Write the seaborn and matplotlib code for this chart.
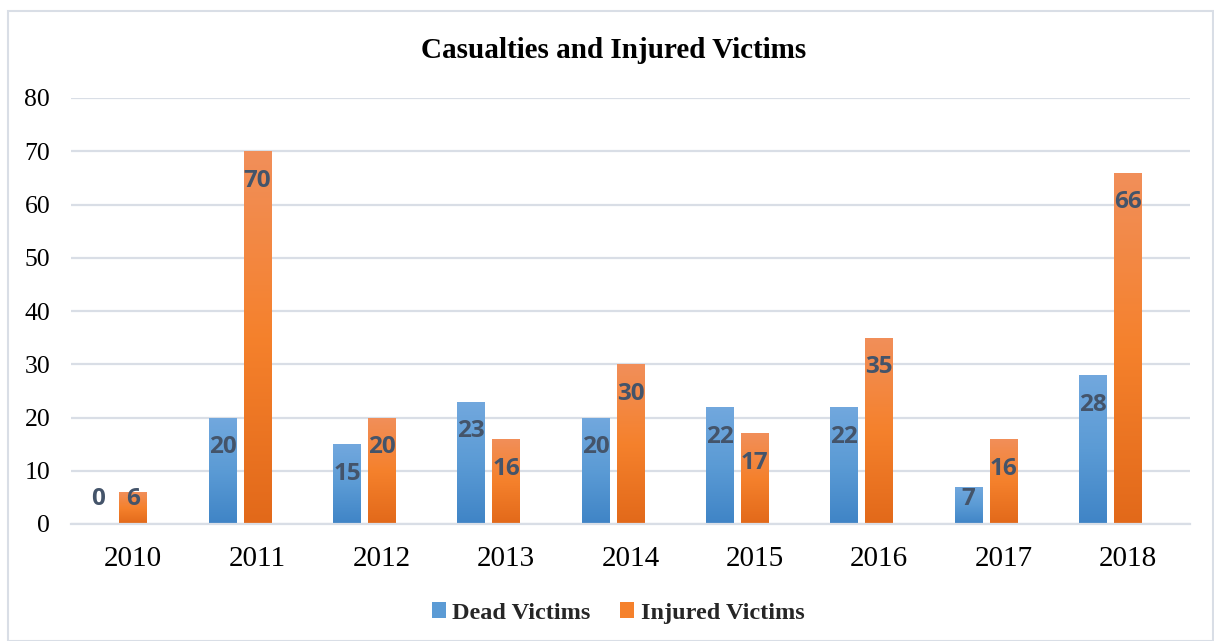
import numpy as np
import pandas as pd
import matplotlib
matplotlib.use("Agg")
import matplotlib.pyplot as plt
from matplotlib.colors import LinearSegmentedColormap
from matplotlib.patches import Rectangle, Patch
import seaborn as sns

years = ["2010", "2011", "2012", "2013", "2014", "2015", "2016", "2017", "2018"]
dead = [0, 20, 15, 23, 20, 22, 22, 7, 28]
injured = [6, 70, 20, 16, 30, 17, 35, 16, 66]
series_names = ["Dead Victims", "Injured Victims", "_blank"]
title = "Casualties and Injured Victims"

sns.set_theme(style="white")
plt.rcParams["font.family"] = ["Liberation Serif", "DejaVu Serif"]

df = pd.DataFrame({
    "Year": years * 3,
    "Value": dead + injured + [0] * len(years),
    "Series": [series_names[0]] * len(years) + [series_names[1]] * len(years) + [series_names[2]] * len(years),
})

blue_stops = ["#3f84c6", "#5b9bd5", "#72a8de"]
orange_stops = ["#e2691a", "#f5812c", "#f18f5a"]
palette = {series_names[0]: "#5b9bd5", series_names[1]: "#f5812c", series_names[2]: "#ffffff"}

fig = plt.figure(figsize=(12.14, 6.41), dpi=100)
ax = fig.add_axes([71 / 1214, 1 - 524 / 641, (1190 - 71) / 1214, (524 - 98) / 641])

sns.barplot(data=df, x="Year", y="Value", hue="Series", hue_order=series_names,
            order=years, palette=palette, width=0.84, gap=0.2, dodge=True,
            ax=ax, legend=False, linewidth=0, saturation=1)

ax.set_ylim(0, 80)
ax.set_xlim(-0.5, len(years) - 0.5)
ax.set_yticks(np.arange(0, 81, 10))
ax.yaxis.grid(True, color="#d9dee6", linewidth=1.6)
ax.set_axisbelow(True)
for s in ["top", "right", "left"]:
    ax.spines[s].set_visible(False)
ax.spines["bottom"].set_color("#d9dee6")
ax.spines["bottom"].set_linewidth(1.6)
ax.set_xlabel("")
ax.set_ylabel("")
ax.tick_params(axis="y", length=0, pad=15, labelsize=18.5, labelcolor="#000000")
ax.tick_params(axis="x", length=0, pad=16, labelsize=21, labelcolor="#000000")

cmap_blue = LinearSegmentedColormap.from_list("b", blue_stops)
cmap_orange = LinearSegmentedColormap.from_list("o", orange_stops)
grad = np.linspace(0, 1, 256).reshape(-1, 1)

n = len(years)
bars = list(ax.patches)
label_font = dict(family=["Open Sans", "DejaVu Sans"], fontweight="bold", fontsize=17.5, color="#44546a")
for i, bar in enumerate(bars):
    series_idx = i // n
    if series_idx > 1:
        continue
    h = bar.get_height()
    x0 = bar.get_x()
    w = bar.get_width()
    if h > 0:
        cm = cmap_blue if series_idx == 0 else cmap_orange
        im = ax.imshow(grad, cmap=cm, origin="lower", aspect="auto",
                       extent=[x0, x0 + w, 0, h], zorder=bar.get_zorder() + 0.1)
        im.set_clip_path(bar)
        bar.set_facecolor("none")
    ly = max(h - 5.6, 4.7)
    ax.text(x0 + w / 2, ly, f"{int(h)}", ha="center", va="center", zorder=5, **label_font)

ax.set_xlim(-0.5, len(years) - 0.5)
ax.set_ylim(0, 80)

fig.text(614 / 1214, 1 - 51 / 641, title, ha="center", va="center",
         fontsize=21, fontweight="bold", color="#000000")

handles = [Patch(facecolor="#5b9bd5", edgecolor="none", label=series_names[0]),
           Patch(facecolor="#f5812c", edgecolor="none", label=series_names[1])]
fig.legend(handles=handles, loc="center", bbox_to_anchor=(618 / 1214, 1 - 613 / 641),
           ncol=2, frameon=False, prop=dict(family="Liberation Serif", weight="bold", size=17.5),
           handlelength=0.6, handleheight=0.6, handletextpad=0.25, columnspacing=1.2)

fig.patches.append(Rectangle((8 / 1214, 0), (1213 - 8) / 1214, 1 - 11 / 641,
                             transform=fig.transFigure, fill=False,
                             edgecolor="#d9dee6", linewidth=1.5))

fig.savefig("out.png", dpi=100, facecolor="white")
